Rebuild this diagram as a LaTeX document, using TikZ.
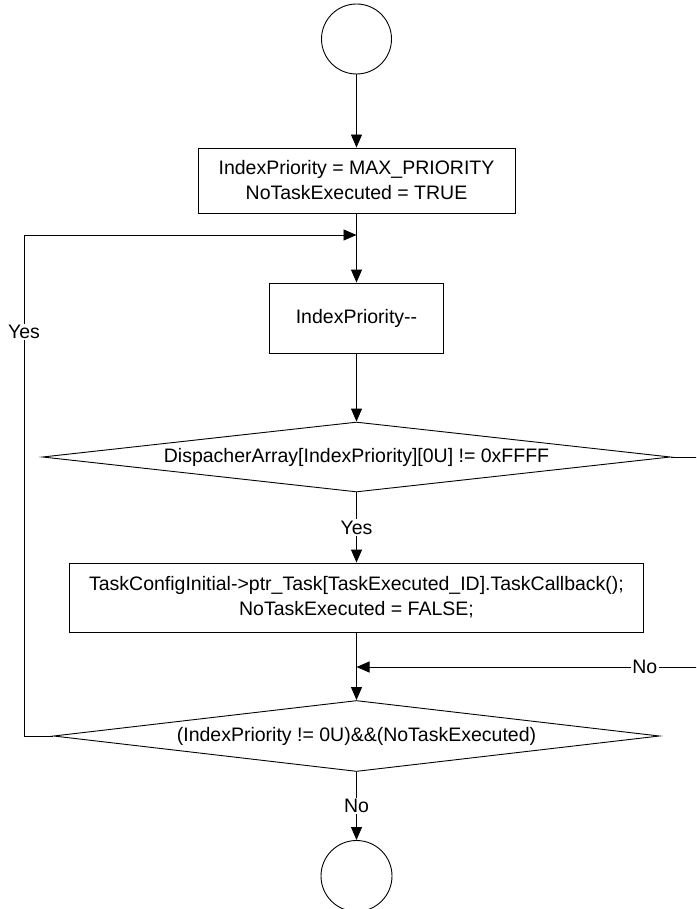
\documentclass[tikz,border=0pt]{standalone}
\usepackage{fontspec}
\setmainfont{Liberation Sans}
\usetikzlibrary{shapes.geometric,arrows.meta}

\begin{document}
\begin{tikzpicture}[x=1pt,y=-1pt,
    every node/.style={font=\fontsize{19.5}{25}\selectfont},
    flowline/.style={line width=0.9pt,draw=black},
    arr/.style={flowline,-{Triangle[length=13pt,width=11pt]}},
    terminal/.style={circle,draw,line width=0.9pt,minimum size=70pt,inner sep=0pt},
    procbox/.style={rectangle,draw,line width=0.9pt,inner sep=0pt,align=center},
    decision/.style={diamond,draw,line width=0.9pt,inner sep=0pt,shape aspect=9},
    lbl/.style={fill=white,inner sep=1.5pt}]
  \useasboundingbox (0,0) rectangle (696,909);
  \clip (0,0) rectangle (696,909);

  % nodes of the flow
  \node[terminal] (start) at (356.5,39) {};
  \node[procbox,minimum width=317pt,minimum height=65pt] (init) at (356.5,180.5)
       {IndexPriority = MAX\_PRIORITY\\NoTaskExecuted = TRUE};
  \coordinate (loop) at (356.5,235);
  \node[procbox,minimum width=174pt,minimum height=70pt] (dec) at (356.5,318) {IndexPriority-{}-};
  \node[decision,minimum width=628pt,minimum height=70pt] (cond1) at (356.5,457)
       {DispacherArray[IndexPriority][0U] != 0xFFFF};
  \node[procbox,minimum width=574pt,minimum height=69pt] (task) at (356.5,597.5)
       {TaskConfigInitial->ptr\_Task[TaskExecuted\_ID].TaskCallback();\\NoTaskExecuted = FALSE;};
  \coordinate (merge) at (356.5,667);
  \node[decision,minimum width=606pt,minimum height=71pt] (cond2) at (356.5,736)
       {(IndexPriority != 0U)\&\&(NoTaskExecuted)};
  \node[terminal,minimum size=71pt] (stop) at (356.5,876) {};

  % corner points of the side loops
  \coordinate (leftlow) at (24,736);
  \coordinate (lefttop) at (24,235);
  \coordinate (righttop) at (706,457);
  \coordinate (rightlow) at (706,667);

  % connectors
  \draw[arr] (start) -- (init);
  \draw[arr] (init) -- (loop) -- (dec);
  \draw[arr] (dec) -- (cond1);
  \draw[arr] (cond1) -- node[lbl] {Yes} (task);
  \draw[arr] (task) -- (merge) -- (cond2);
  \draw[arr] (cond2) -- node[lbl] {No} (stop);
  \draw[arr] (cond2.west) -- (leftlow) -- node[lbl,pos=0.806] {Yes} (lefttop) -- (loop);
  \draw[arr] (cond1.east) -- (righttop) -- (rightlow) -- node[lbl,pos=0.175] {No} (merge);
\end{tikzpicture}
\end{document}
